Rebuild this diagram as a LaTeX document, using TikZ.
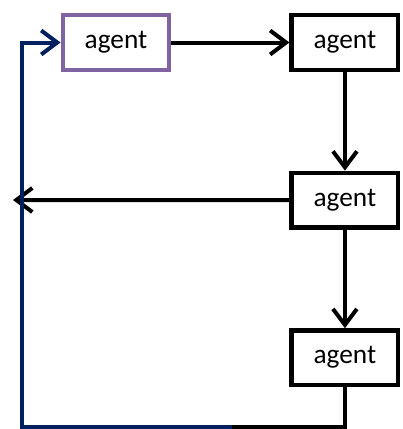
\documentclass[tikz,border=0pt]{standalone}
\usepackage{fontspec}
\setmainfont{Carlito}
\usepackage{xcolor}
\usepackage{tikz}
\usetikzlibrary{arrows.meta, positioning}

\definecolor{agentpurple}{HTML}{8064A2}
\definecolor{loopblue}{HTML}{002060}

\begin{document}
\begin{tikzpicture}[
		x=0.75pt, y=-0.75pt,
		agentbox/.style={draw, line width=3.2pt, minimum width=80pt, minimum height=41pt, inner sep=0pt, font=\fontsize{20.5}{24}\selectfont},
		flow/.style={line width=3pt, -{Straight Barb[length=12pt, width=18pt]}},
		node distance=74pt and 88.5pt,
		every node/.style={align=center}
		]
		\useasboundingbox (0,0) rectangle (403,429);
		
		% Agents
		\node[agentbox, draw=agentpurple] (agent1) at (116,42.5) {agent};
		\node[agentbox, right=of agent1] (agent2) {agent};
		\node[agentbox, below=of agent2] (agent3) {agent};
		\node[agentbox, below=of agent3] (agent4) {agent};
		
		% Loose ends
		\coordinate (exit) at (13,200);
		\coordinate (split) at (232,426.5);
		\coordinate (turn) at (22,42.5);
		
		% Arrows
		\foreach \i/\j in {agent1/agent2, agent2/agent3, agent3/agent4, agent3/exit}
		\draw[flow] (\i) -- (\j);
		
		% Feedback loop
		\draw[line width=3pt] (agent4) |- (split);
		\draw[flow, loopblue] (split) -| (turn) -- (agent1);
		
	\end{tikzpicture}
\end{document}
